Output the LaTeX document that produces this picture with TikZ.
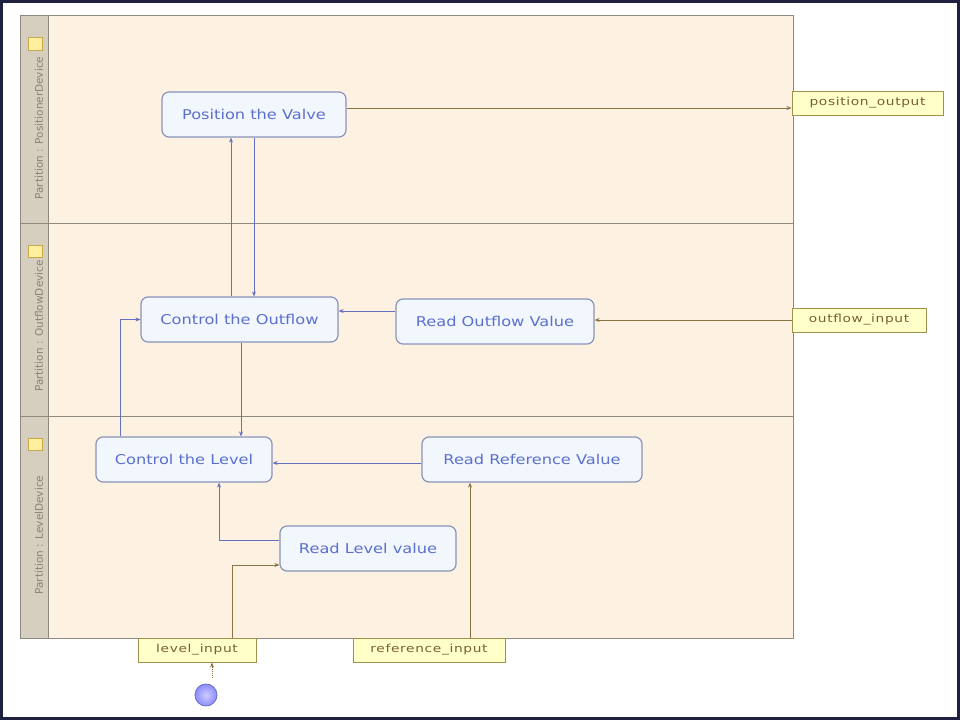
\documentclass[tikz,border=0pt]{standalone}
\usepackage{fontspec}
\usetikzlibrary{arrows.meta,calc}
\newfontfamily\nodefont[FakeStretch=1.2]{DejaVu Sans}
\newfontfamily\pinfont[FakeStretch=1.25,LetterSpace=6]{DejaVu Sans}
\newfontfamily\lanefont{DejaVu Sans}
\definecolor{frame}{HTML}{1E2040}
\definecolor{lanefill}{HTML}{FDF1E1}
\definecolor{lanehead}{HTML}{D6CEBF}
\definecolor{laneline}{HTML}{8E8A80}
\definecolor{nodefill}{HTML}{F2F7FE}
\definecolor{nodeline}{HTML}{8A92BC}
\definecolor{nodetext}{HTML}{5B6FCF}
\definecolor{blueedge}{HTML}{6670C0}
\definecolor{brownedge}{HTML}{8B7444}
\definecolor{pinfill}{HTML}{FFFFC8}
\definecolor{pinline}{HTML}{A09050}
\definecolor{pintext}{HTML}{7A6030}
\definecolor{labeltext}{HTML}{8C8272}
\definecolor{sqfill}{HTML}{FFF0A0}
\definecolor{sqline}{HTML}{C8A848}
\tikzset{
  action/.style={draw=nodeline, line width=1.2pt, fill=nodefill, rounded corners=7pt,
    inner sep=0pt, text=nodetext, font=\nodefont\fontsize{13.5}{15}\selectfont},
  pinbox/.style={draw=pinline, line width=1pt, fill=pinfill, inner sep=0pt,
    text=pintext, font=\pinfont\fontsize{11}{12}\selectfont},
  flow/.style={draw=blueedge, line width=1pt, -{Stealth[length=5pt,width=4pt]}},
  objflow/.style={draw=brownedge, line width=1pt, -{Stealth[length=5pt,width=4pt]}},
  lanelabel/.style={rotate=90, text=labeltext, font=\lanefont\fontsize{10.5}{12}\selectfont},
  marker/.style={draw=sqline, fill=sqfill, line width=0.8pt}
}
\begin{document}
\begin{tikzpicture}[x=1pt,y=-1pt]
\useasboundingbox (0,0) rectangle (960,720);
\fill[white] (0,0) rectangle (960,720);
% swimlanes
\fill[lanefill] (48,15) rectangle (793,638);
\fill[lanehead] (20,15) rectangle (48,638);
\draw[laneline, line width=0.8pt] (20,15) rectangle (793,638);
\draw[laneline, line width=0.8pt] (48,15) -- (48,638);
\draw[laneline, line width=0.8pt] (20,223) -- (793,223);
\draw[laneline, line width=0.8pt] (20,416) -- (793,416);
\draw[marker] (28,37) rectangle (42,50);
\draw[marker] (28,245) rectangle (42,257);
\draw[marker] (28,438) rectangle (42,450);
\node[lanelabel] (l1) at (39,128) {Partition : PositionerDevice};
\node[lanelabel] (l2) at (39,326) {Partition : OutflowDevice};
\node[lanelabel] (l3) at (39,535) {Partition : LevelDevice};
% actions
\node[action, minimum width=184pt, minimum height=45pt] (pv) at (254,114.5) {Position the Valve};
\node[action, minimum width=197pt, minimum height=45pt] (co) at (239.5,319.5) {Control the Outflow};
\node[action, minimum width=198pt, minimum height=45pt] (ro) at (495,321.5) {Read Outflow Value};
\node[action, minimum width=176pt, minimum height=45pt] (cl) at (184,459.5) {Control the Level};
\node[action, minimum width=220pt, minimum height=45pt] (rr) at (532,459.5) {Read Reference Value};
\node[action, minimum width=176pt, minimum height=45pt] (rl) at (368,548.5) {Read Level value};
% pins
\node[pinbox, minimum width=151pt, minimum height=24pt] (po) at (867.5,103) {position\_output};
\node[pinbox, minimum width=134pt, minimum height=24pt] (oi) at (859,320) {outflow\_input};
\node[pinbox, minimum width=118pt, minimum height=24pt] (li) at (197,650) {level\_input};
\node[pinbox, minimum width=152pt, minimum height=24pt] (ri) at (429,650) {reference\_input};
% initial node
\node[circle, minimum size=22pt, inner sep=0pt, draw=blueedge, line width=0.8pt,
  inner color=blue!20!white, outer color=blue!45!white] (init) at (206,695) {};
% flows
\draw[flow] ([xshift=-8.5pt]co.north) -- ([xshift=-8.5pt]co.north |- pv.south);
\draw[flow] (pv.south) -- (pv.south |- co.north);
\draw[objflow] ([yshift=6.5pt]pv.east) -- ([yshift=6.5pt]pv.east -| po.west);
\draw[objflow] (oi.west) -- (oi.west -| ro.east);
\draw[flow] ([yshift=10.5pt]ro.west) -- ([yshift=10.5pt]ro.west -| co.east);
\draw[flow] ([xshift=1.5pt]co.south) -- ([xshift=1.5pt]co.south |- cl.north);
\draw[flow] ([xshift=-64pt]cl.north) |- (co.west);
\draw[flow] ([yshift=-3.5pt]rr.west) -- ([yshift=-3.5pt]rr.west -| cl.east);
\draw[flow] ([yshift=8.5pt]rl.west) -| ([xshift=35pt]cl.south);
\draw[objflow] ([xshift=35pt]li.north) |- ([yshift=-16.5pt]rl.west);
\draw[objflow] ([xshift=41pt]ri.north) -- ([xshift=41pt]ri.north |- rr.south);
\draw[objflow, densely dotted] ([xshift=6pt,yshift=6pt]init.north) -- ([xshift=15pt]li.south);
% outer frame
\draw[frame, line width=3pt] (1.5,1.5) rectangle (958.5,718.5);
\end{tikzpicture}
\end{document}
